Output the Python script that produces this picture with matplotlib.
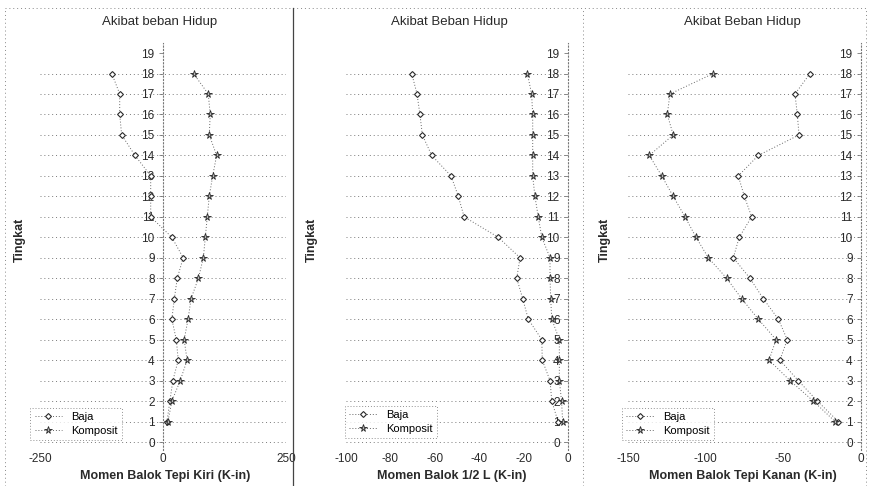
import numpy as np
import matplotlib
matplotlib.use("Agg")
import matplotlib.pyplot as plt
from matplotlib.lines import Line2D

plt.rcParams["font.family"] = ["Liberation Sans", "DejaVu Sans"]
plt.rcParams["axes.unicode_minus"] = False

# levels (Tingkat) with data
levels = [18, 17, 16, 15, 14, 13, 12, 11, 10, 9, 8, 7, 6, 5, 4, 3, 2, 1]

# panel 1: Momen Balok Tepi Kiri
kiri_baja = [-104, -88, -88, -84, -57, -25, -25, -25, 18, 41, 29, 23, 18, 27, 31, 20, 14, 8]
kiri_komposit = [62, 92, 96, 94, 109, 101, 94, 90, 86, 82, 72, 57, 51, 43, 49, 35, 18, 10]

# panel 2: Momen Balok 1/2 L
tengah_baja = [-70.4, -68, -66.7, -65.6, -61.4, -52.7, -49.4, -46.8, -31.4, -21.6,
               -23.1, -20.4, -17.9, -11.8, -11.6, -8.1, -7.3, -4.5]
tengah_komposit = [-18.3, -16.4, -15.9, -15.9, -15.9, -15.9, -14.9, -13.4, -11.8, -8.1,
                   -8.1, -7.8, -7.3, -3.9, -3.9, -3.9, -2.9, -2.4]

# panel 3: Momen Balok Tepi Kanan
kanan_baja = [-32.8, -42.5, -41.0, -39.9, -66.1, -79.0, -75.1, -70.4, -78.4, -82.2,
              -71.5, -62.9, -53.2, -47.5, -52.2, -40.4, -28.1, -14.6]
kanan_komposit = [-95.1, -123, -124.7, -120.9, -136.3, -128.3, -120.9, -113.3, -106.2, -98.3,
                  -86.5, -76.8, -66.1, -54.7, -59.2, -45.7, -30.7, -16.7]

titles = ["Akibat beban Hidup", "Akibat Beban Hidup", "Akibat Beban Hidup"]
xlabels = ["Momen Balok Tepi Kiri (K-in)", "Momen Balok 1/2 L (K-in)",
           "Momen Balok Tepi Kanan (K-in)"]
xlims = [(-250, 250), (-100, 0), (-150, 0)]
xticks = [[-250, 0, 250], [-100, -80, -60, -40, -20, 0], [-150, -100, -50, 0]]

W, H = 870, 486
fig = plt.figure(figsize=(W / 100, H / 100), dpi=100)


def px_axes(x0, x1, y_top, y_bot):
    return fig.add_axes([x0 / W, 1 - y_bot / H, (x1 - x0) / W, (y_bot - y_top) / H])


y_top, y_bot = 42.8, 450.2
panels = [
    dict(x=(40, 286), baja=kiri_baja, komp=kiri_komposit, leg=(-0.04, 0.025),
         title_x=160, ylab_x=20, xlab_x=165),
    dict(x=(346, 568), baja=tengah_baja, komp=tengah_komposit, leg=(-0.005, 0.03),
         title_x=449, ylab_x=312, xlab_x=452),
    dict(x=(628, 861), baja=kanan_baja, komp=kanan_komposit, leg=(-0.026, 0.025),
         title_x=742, ylab_x=605, xlab_x=743),
]

ink = "#2a2a2a"
for i, p in enumerate(panels):
    ax = px_axes(p["x"][0], p["x"][1], y_top, y_bot)
    ax.set_xlim(*xlims[i])
    ax.set_ylim(-0.4, 19.5)
    ax.patch.set_alpha(0)

    # dotted horizontal grid at each level
    ax.hlines(range(0, 19), xlims[i][0], xlims[i][1], colors="#7a7a7a",
              linestyles=(0, (1, 3)), linewidth=0.7, zorder=0)

    for s in ["top", "right", "bottom"]:
        ax.spines[s].set_visible(False)
    ax.spines["left"].set_position(("data", 0))
    ax.spines["left"].set_linestyle((0, (1, 2)))
    ax.spines["left"].set_color("#777777")
    ax.spines["left"].set_linewidth(0.8)

    ax.set_yticks(range(0, 20))
    ax.tick_params(axis="y", direction="out", length=3, width=0.6, color="#777777",
                   labelsize=8.5, labelcolor=ink, pad=3)
    ax.set_xticks(xticks[i])
    ax.tick_params(axis="x", length=0, labelsize=8.5, labelcolor=ink, pad=2)

    ax.plot(p["baja"], levels, linestyle=(0, (1, 2)), color="#666666", linewidth=0.7,
            marker="D", markersize=3, markerfacecolor="white", markeredgecolor=ink,
            markeredgewidth=0.8, label="Baja")
    ax.plot(p["komp"], levels, linestyle=(0, (1, 2)), color="#666666", linewidth=0.7,
            marker="*", markersize=5.5, markerfacecolor="#bbbbbb", markeredgecolor=ink,
            markeredgewidth=0.6, label="Komposit")

    leg = ax.legend(loc="lower left", bbox_to_anchor=p["leg"], fontsize=8,
                    frameon=True, fancybox=False, borderaxespad=0, handlelength=2.5,
                    labelspacing=0.3, borderpad=0.4)
    leg.get_frame().set_linestyle((0, (1, 2)))
    leg.get_frame().set_edgecolor("#777777")
    leg.get_frame().set_linewidth(0.7)

    fig.text(p["title_x"] / W, 1 - 22 / H, titles[i], ha="center", va="center",
             fontsize=9.5, color=ink)
    fig.text(p["ylab_x"] / W, 1 - 240 / H, "Tingkat", ha="center", va="center",
             rotation=90, fontsize=9, fontweight="bold", color=ink)
    fig.text(p["xlab_x"] / W, 1 - 476 / H, xlabels[i], ha="center", va="center",
             fontsize=9, fontweight="bold", color=ink)

# panel frames
frame_kw = dict(transform=fig.transFigure, color="#888888", linewidth=0.7,
                linestyle=(0, (1, 3)))
fig.add_artist(Line2D([5 / W, 866 / W], [1 - 8 / H, 1 - 8 / H], **frame_kw))
for xp in [5, 583, 866]:
    fig.add_artist(Line2D([xp / W, xp / W], [0, 1 - 8 / H], **frame_kw))
fig.add_artist(Line2D([293 / W, 293 / W], [0, 1 - 8 / H], transform=fig.transFigure,
                      color="#444444", linewidth=0.9))

fig.savefig("out.png", dpi=100)
